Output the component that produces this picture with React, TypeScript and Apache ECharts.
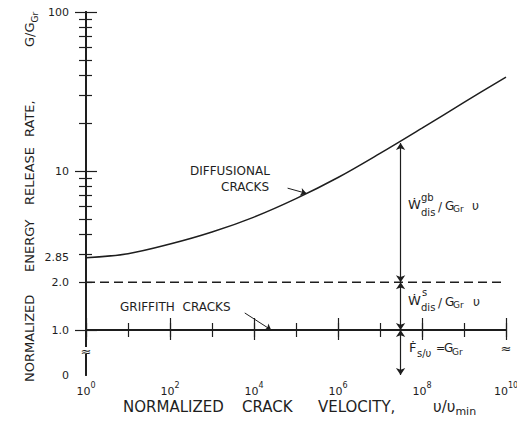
import React, { useEffect, useRef } from 'react';
import * as echarts from 'echarts';

// x values are exponents: log10(v / v_min)
const VELOCITY_EXPONENT = [0, 1, 2, 3, 4, 5, 6, 7, 8, 9, 10];
const DIFFUSIONAL_G = [2.85, 3.02, 3.47, 4.13, 5.13, 6.7, 9.1, 12.9, 18.6, 27, 39];
const DASHED_EXPONENT = [0, 10];
const DASHED_G = [2.0, 2.0];
const GRIFFITH_EXPONENT = [0, 10];
const GRIFFITH_G = [1.0, 1.0];
const ARROW_EXPONENT = 7.49;
const ARROW_LEVELS = [15.0, 2.0, 1.0, 0];
const GRIFFITH_LEADER = [[3.78, 1.28], [4.41, 1.0]];
const DIFFUSIONAL_LEADER = [[4.8, 7.8], [5.25, 7.23]];
const X_TICK_MAJOR_INTERVAL = 2;
const X_TICK_MINOR_INTERVAL = 1;
const Y_LABEL_VALUES = [0, 1, 2, 2.85, 10, 100];
const Y_LABEL_TEXTS = ['0', '1.0', '2.0', '2.85', '10', '100'];
const Y_MAJOR_TICKS = [1, 10, 100];
const Y_MINOR_TICKS = [2, 3, 4, 5, 6, 7, 8, 9, 20, 30, 40, 50, 60, 70, 80, 90];
const Y_BREAK_FLOOR = -0.283; // where the broken axis puts 0
const Y_TOP = 2; // log10(100)

const INK = '#1e1e1e';
const FONT = 'DejaVu Sans';

const Y = (g: number) => (g <= 0 ? Y_BREAK_FLOOR : Math.log10(g));

const txt = (text: string, x: number, y: number, size: number) => ({
  type: 'text',
  x,
  y,
  z: 100,
  silent: true,
  style: {
    text,
    fontSize: size,
    fontFamily: FONT,
    fill: INK,
    textAlign: 'left',
    textVerticalAlign: 'middle',
    align: 'left',
    verticalAlign: 'middle',
  },
});

const breakMark = (x: number, y: number) => [
  { type: 'rect', z: 99, silent: true, shape: { x: x - 4, y: y - 4, width: 8, height: 7 }, style: { fill: '#fff' } },
  {
    type: 'text', x, y, z: 100, silent: true,
    style: { text: '≈', fontSize: 13, fontFamily: FONT, fill: INK, textAlign: 'center', textVerticalAlign: 'middle', align: 'center', verticalAlign: 'middle' },
  },
];

export default function App() {
  const ref = useRef<HTMLDivElement>(null);

  useEffect(() => {
    if (!ref.current) return;
    const chart = echarts.init(ref.current, null, { renderer: 'svg' });

    const axisBase = { type: 'value', min: 0, max: 10, splitLine: { show: false } };
    const yBase = { type: 'value', min: Y_BREAK_FLOOR, max: Y_TOP, splitLine: { show: false } };
    const lineStyle = { color: INK, width: 2 };
    const tickStyle = { color: INK, width: 1.2 };

    const arrowSegments = [] as any[];
    for (let i = 0; i < ARROW_LEVELS.length - 1; i++) {
      arrowSegments.push([
        { coord: [ARROW_EXPONENT, Y(ARROW_LEVELS[i])] },
        { coord: [ARROW_EXPONENT, Y(ARROW_LEVELS[i + 1])] },
      ]);
    }

    const option: any = {
      animation: false,
      grid: { left: 86, right: 11, top: 12, bottom: 49, containLabel: false, outerBoundsMode: 'none' },
      xAxis: [
        {
          ...axisBase, position: 'bottom', interval: X_TICK_MAJOR_INTERVAL,
          axisLine: { show: true, lineStyle },
          axisTick: { show: true, inside: true, length: 12, lineStyle: tickStyle },
          axisLabel: {
            show: true, margin: 6,
            formatter: (v: number) => `{b|10}{s|${v}}`,
            rich: {
              b: { fontSize: 11, fontFamily: FONT, color: INK, lineHeight: 16, verticalAlign: 'bottom' },
              s: { fontSize: 8, fontFamily: FONT, color: INK, lineHeight: 9, verticalAlign: 'top' },
            },
          },
        },
        {
          ...axisBase, position: 'bottom', interval: X_TICK_MINOR_INTERVAL,
          axisLine: { show: false },
          axisTick: { show: true, inside: true, length: 7, lineStyle: tickStyle },
          axisLabel: { show: false },
        },
        {
          ...axisBase, position: 'top', interval: X_TICK_MAJOR_INTERVAL,
          axisLine: { show: true, lineStyle },
          axisTick: { show: true, inside: true, length: 10, lineStyle: tickStyle },
          axisLabel: { show: false },
        },
        {
          ...axisBase, position: 'top', interval: X_TICK_MINOR_INTERVAL,
          axisLine: { show: false },
          axisTick: { show: true, inside: true, length: 7, lineStyle: tickStyle },
          axisLabel: { show: false },
        },
      ],
      yAxis: [
        {
          ...yBase, position: 'left',
          axisLine: { show: true, lineStyle },
          axisTick: { show: true, inside: true, length: 11, lineStyle: tickStyle, customValues: Y_MAJOR_TICKS.map(Y) },
          axisLabel: {
            show: true, margin: 17, fontSize: 11, fontFamily: FONT, color: INK,
            customValues: Y_LABEL_VALUES.map(Y),
            formatter: (v: number) => {
              const i = Y_LABEL_VALUES.findIndex((g) => Math.abs(Y(g) - v) < 1e-6);
              return i >= 0 ? Y_LABEL_TEXTS[i] : '';
            },
          },
        },
        {
          ...yBase, position: 'left',
          axisLine: { show: false },
          axisTick: { show: true, inside: true, length: 6, lineStyle: tickStyle, customValues: Y_MINOR_TICKS.map(Y) },
          axisLabel: { show: false },
        },
        {
          ...yBase, position: 'right',
          axisLine: { show: true, lineStyle },
          axisTick: { show: true, inside: true, length: 11, lineStyle: tickStyle, customValues: Y_MAJOR_TICKS.map(Y) },
          axisLabel: { show: false },
        },
        {
          ...yBase, position: 'right',
          axisLine: { show: false },
          axisTick: { show: true, inside: true, length: 7, lineStyle: tickStyle, customValues: Y_MINOR_TICKS.map(Y) },
          axisLabel: { show: false },
        },
      ],
      series: [
        {
          name: 'Diffusional cracks', type: 'line', xAxisIndex: 0, yAxisIndex: 0,
          data: VELOCITY_EXPONENT.map((x, i) => [x, Y(DIFFUSIONAL_G[i])]),
          smooth: 0.35, symbol: 'none', silent: true,
          lineStyle: { color: INK, width: 1.5 },
          markLine: {
            silent: true, symbol: ['none', 'arrow'], symbolSize: 6, label: { show: false },
            lineStyle: { color: INK, width: 1, type: 'solid' },
            data: [[
              { coord: [DIFFUSIONAL_LEADER[0][0], Y(DIFFUSIONAL_LEADER[0][1])] },
              { coord: [DIFFUSIONAL_LEADER[1][0], Y(DIFFUSIONAL_LEADER[1][1])] },
            ]],
          },
        },
        {
          name: 'Dislocation (surface)', type: 'line', xAxisIndex: 0, yAxisIndex: 0,
          data: DASHED_EXPONENT.map((x, i) => [x, Y(DASHED_G[i])]),
          symbol: 'none', silent: true,
          lineStyle: { color: INK, width: 1.5, type: [9, 5] },
          markLine: {
            silent: true, symbol: ['arrow', 'arrow'], symbolSize: 7, label: { show: false },
            lineStyle: { color: INK, width: 1.2, type: 'solid' },
            data: arrowSegments,
          },
        },
        {
          name: 'Griffith cracks', type: 'line', xAxisIndex: 0, yAxisIndex: 0,
          data: GRIFFITH_EXPONENT.map((x, i) => [x, Y(GRIFFITH_G[i])]),
          symbol: 'none', silent: true,
          lineStyle: { color: INK, width: 1.5 },
          markLine: {
            silent: true, symbol: ['none', 'arrow'], symbolSize: 6, label: { show: false },
            lineStyle: { color: INK, width: 1, type: 'solid' },
            data: [[
              { coord: [GRIFFITH_LEADER[0][0], Y(GRIFFITH_LEADER[0][1])] },
              { coord: [GRIFFITH_LEADER[1][0], Y(GRIFFITH_LEADER[1][1])] },
            ]],
          },
        },
      ],
      graphic: [
        // axis titles
        {
          type: 'text', x: 123, y: 408, z: 100, silent: true,
          style: {
            text: '{a|NORMALIZED}{b|CRACK}{c|VELOCITY,}{d|υ/υ}{e|min}',
            textAlign: 'left', textVerticalAlign: 'middle', align: 'left', verticalAlign: 'middle',
            rich: {
              a: { width: 119, fontSize: 15, fontFamily: FONT, fill: INK, color: INK, lineHeight: 18, verticalAlign: 'top' },
              b: { width: 76, fontSize: 15, fontFamily: FONT, fill: INK, color: INK, lineHeight: 18, verticalAlign: 'top' },
              c: { width: 115, fontSize: 15, fontFamily: FONT, fill: INK, color: INK, lineHeight: 18, verticalAlign: 'top' },
              d: { fontSize: 15, fontFamily: FONT, fill: INK, color: INK, lineHeight: 18, verticalAlign: 'top' },
              e: { fontSize: 11, fontFamily: FONT, fill: INK, color: INK, lineHeight: 10, verticalAlign: 'bottom' },
            },
          },
        },
        {
          type: 'text', x: 31, y: 382, rotation: Math.PI / 2, z: 100, silent: true,
          style: {
            text: '{a|NORMALIZED}{b|ENERGY}{c|RELEASE}{d|RATE,}{e|G/G}{f|Gr}',
            textAlign: 'left', textVerticalAlign: 'middle', align: 'left', verticalAlign: 'middle',
            rich: {
              a: { width: 110, fontSize: 13, fontFamily: FONT, fill: INK, color: INK, lineHeight: 16, verticalAlign: 'top' },
              b: { width: 67, fontSize: 13, fontFamily: FONT, fill: INK, color: INK, lineHeight: 16, verticalAlign: 'top' },
              c: { width: 68, fontSize: 13, fontFamily: FONT, fill: INK, color: INK, lineHeight: 16, verticalAlign: 'top' },
              d: { width: 90, fontSize: 13, fontFamily: FONT, fill: INK, color: INK, lineHeight: 16, verticalAlign: 'top' },
              e: { fontSize: 13, fontFamily: FONT, fill: INK, color: INK, lineHeight: 16, verticalAlign: 'top' },
              f: { fontSize: 9, fontFamily: FONT, fill: INK, color: INK, lineHeight: 8, verticalAlign: 'bottom' },
            },
          },
        },
        // curve labels
        txt('DIFFUSIONAL', 190, 171, 12),
        txt('CRACKS', 221, 187, 12),
        txt('GRIFFITH  CRACKS', 120, 307, 12),
        // grain-boundary dissipation
        txt('Ẇ', 408, 204, 13),
        txt('gb', 421, 197, 10),
        txt('dis', 421, 212, 10),
        txt('/', 438, 207, 12),
        txt('G', 445, 206, 12),
        txt('Gr', 453, 209, 9),
        txt('υ', 472, 206, 12),
        // surface dissipation
        txt('Ẇ', 408, 300, 13),
        txt('s', 422, 292, 10),
        txt('dis', 421, 307, 10),
        txt('/', 438, 303, 12),
        txt('G', 445, 302, 12),
        txt('Gr', 453, 305, 9),
        txt('υ', 473, 302, 12),
        // surface energy
        txt('Ḟ', 409, 347, 13),
        txt('s/υ', 417, 353, 10),
        txt('=', 436, 348, 11),
        txt('G', 444, 348, 12),
        txt('Gr', 452, 352, 9),
        // axis breaks
        ...breakMark(86, 351),
        ...breakMark(506, 348),
      ],
    };

    chart.setOption(option);
    return () => chart.dispose();
  }, []);

  return (
    <div
      ref={ref}
      style={{ position: 'absolute', left: 0, top: 0, width: 517, height: 424, background: '#fff' }}
    />
  );
}
